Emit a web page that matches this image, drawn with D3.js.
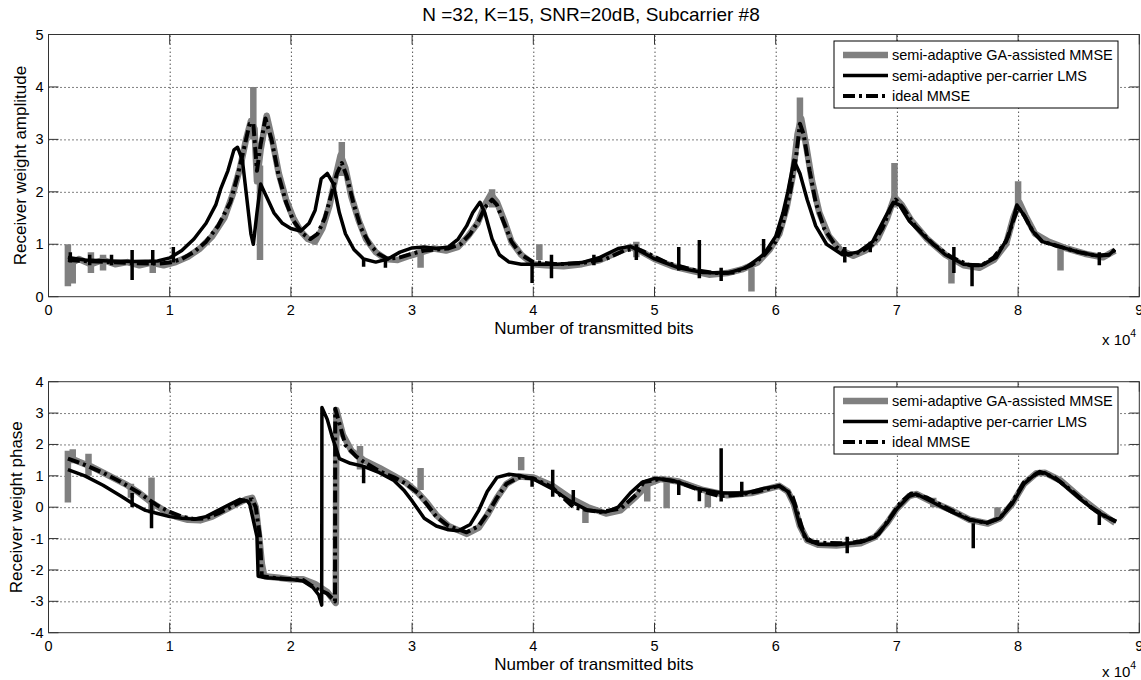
<!DOCTYPE html>
<html>
  <head>
    <meta charset="utf-8">
    <title></title>
  </head>
  <style>
    body{
      margin: 0;
      background-color: #fff;
      font-family: "Liberation Sans", Arial, Helvetica, sans-serif;
    }
    .grid line{
      stroke: #000;
      stroke-dasharray: 1,3;
      stroke-width: 1;
    }
    .tk line{ stroke: #333; }
    text{ fill: #000; }
  </style>
  <script src="https://d3js.org/d3.v7.min.js"></script>
  <body>
    <script>
    // x values are in units of 10^4 transmitted bits
    const xTicks = [0, 1, 2, 3, 4, 5, 6, 7, 8, 9]
    const ampTicks = [0, 1, 2, 3, 4, 5]
    const phaseTicks = [-4, -3, -2, -1, 0, 1, 2, 3, 4]
    const seriesNames = ["semi-adaptive GA-assisted MMSE", "semi-adaptive per-carrier LMS", "ideal MMSE"]

    // amplitude
    const ampGA = [[0.16,0.6],[0.25,0.72],[0.35,0.62],[0.45,0.7],[0.55,0.62],[0.65,0.66],[0.75,0.6],[0.85,0.65],[0.95,0.6],[1.05,0.66],[1.15,0.76],[1.25,0.92],[1.35,1.15],[1.45,1.5],[1.52,1.95],[1.58,2.45],[1.63,3.0],[1.67,3.35],[1.7,3.2],[1.72,2.2],[1.75,2.8],[1.8,3.45],[1.85,2.95],[1.9,2.35],[1.96,1.85],[2.02,1.5],[2.08,1.25],[2.14,1.1],[2.2,1.05],[2.26,1.3],[2.32,1.75],[2.37,2.3],[2.41,2.7],[2.45,2.45],[2.5,1.9],[2.56,1.45],[2.62,1.1],[2.7,0.85],[2.78,0.72],[2.88,0.7],[2.98,0.78],[3.08,0.85],[3.18,0.92],[3.28,0.88],[3.38,0.95],[3.46,1.15],[3.54,1.4],[3.6,1.75],[3.65,1.95],[3.7,1.8],[3.76,1.45],[3.82,1.05],[3.9,0.8],[4.0,0.62],[4.1,0.6],[4.25,0.58],[4.4,0.62],[4.55,0.7],[4.7,0.85],[4.8,0.95],[4.9,0.85],[5.0,0.72],[5.15,0.58],[5.3,0.5],[5.45,0.42],[5.6,0.45],[5.72,0.52],[5.85,0.65],[5.95,0.9],[6.03,1.2],[6.09,1.7],[6.14,2.3],[6.18,3.1],[6.21,3.4],[6.25,2.9],[6.3,2.2],[6.36,1.6],[6.44,1.15],[6.54,0.88],[6.64,0.78],[6.74,0.88],[6.84,1.1],[6.92,1.5],[6.98,1.9],[7.04,1.75],[7.12,1.45],[7.25,1.1],[7.4,0.8],[7.55,0.6],[7.68,0.55],[7.8,0.7],[7.9,1.0],[7.96,1.5],[8.01,1.8],[8.06,1.55],[8.14,1.2],[8.25,1.05],[8.4,0.92],[8.55,0.82],[8.7,0.75],[8.8,0.88]]
    const ampLMS = [[0.16,0.75],[0.3,0.7],[0.5,0.68],[0.7,0.67],[0.9,0.68],[1.0,0.74],[1.1,0.88],[1.2,1.1],[1.3,1.4],[1.38,1.75],[1.42,2.05],[1.48,2.4],[1.53,2.8],[1.56,2.85],[1.6,2.6],[1.64,1.8],[1.67,1.2],[1.69,1.0],[1.72,1.6],[1.75,2.15],[1.8,1.9],[1.86,1.6],[1.93,1.4],[2.0,1.3],[2.08,1.25],[2.15,1.4],[2.2,1.65],[2.25,2.25],[2.3,2.35],[2.35,2.15],[2.4,1.6],[2.45,1.2],[2.52,0.9],[2.6,0.72],[2.7,0.66],[2.8,0.72],[2.9,0.85],[3.0,0.93],[3.1,0.95],[3.2,0.92],[3.3,0.95],[3.38,1.1],[3.45,1.35],[3.5,1.6],[3.56,1.8],[3.6,1.6],[3.66,1.1],[3.72,0.8],[3.8,0.66],[3.9,0.62],[4.2,0.62],[4.4,0.65],[4.55,0.75],[4.7,0.92],[4.8,0.96],[4.9,0.85],[5.0,0.72],[5.2,0.55],[5.4,0.46],[5.6,0.45],[5.75,0.55],[5.9,0.8],[6.0,1.15],[6.06,1.6],[6.1,2.0],[6.15,2.6],[6.2,2.35],[6.26,1.85],[6.33,1.35],[6.42,1.0],[6.55,0.8],[6.68,0.85],[6.8,1.05],[6.9,1.5],[6.97,1.8],[7.02,1.75],[7.1,1.45],[7.25,1.1],[7.4,0.8],[7.55,0.62],[7.7,0.6],[7.82,0.75],[7.92,1.15],[7.99,1.75],[8.05,1.55],[8.12,1.25],[8.2,1.05],[8.35,0.95],[8.5,0.85],[8.65,0.78],[8.75,0.8],[8.8,0.9]]
    const ampIdeal = [[0.16,0.70],[0.3,0.68],[0.5,0.66],[0.7,0.64],[0.9,0.63],[1.0,0.65],[1.1,0.72],[1.2,0.85],[1.3,1.05],[1.4,1.35],[1.5,1.8],[1.56,2.3],[1.62,2.9],[1.66,3.3],[1.69,3.3],[1.72,2.4],[1.75,2.9],[1.79,3.4],[1.84,3.0],[1.9,2.3],[1.96,1.8],[2.02,1.45],[2.1,1.2],[2.16,1.1],[2.22,1.2],[2.28,1.5],[2.34,2.0],[2.38,2.35],[2.42,2.55],[2.46,2.3],[2.52,1.75],[2.58,1.3],[2.65,1.0],[2.72,0.82],[2.8,0.72],[2.9,0.75],[3.0,0.82],[3.1,0.88],[3.2,0.9],[3.3,0.92],[3.4,1.0],[3.48,1.2],[3.55,1.45],[3.6,1.7],[3.66,1.85],[3.7,1.75],[3.76,1.4],[3.82,1.05],[3.9,0.8],[4.0,0.66],[4.2,0.62],[4.4,0.64],[4.6,0.72],[4.75,0.88],[4.85,0.92],[4.95,0.82],[5.1,0.65],[5.3,0.52],[5.5,0.45],[5.65,0.46],[5.8,0.6],[5.9,0.78],[6.0,1.05],[6.06,1.4],[6.12,2.0],[6.17,2.7],[6.2,3.3],[6.23,3.1],[6.28,2.4],[6.33,1.8],[6.4,1.3],[6.5,0.95],[6.6,0.8],[6.7,0.85],[6.8,1.0],[6.88,1.3],[6.95,1.7],[6.99,1.85],[7.05,1.7],[7.15,1.35],[7.3,1.0],[7.45,0.75],[7.6,0.6],[7.7,0.6],[7.8,0.75],[7.9,1.05],[7.96,1.45],[8.0,1.7],[8.05,1.55],[8.12,1.25],[8.2,1.05],[8.35,0.95],[8.5,0.85],[8.65,0.78],[8.75,0.8],[8.8,0.9]]
    // short excursions [x, from, to]
    const ampGASpikes = [[0.16,0.2,1.0],[0.2,0.25,0.7],[0.35,0.45,0.85],[0.45,0.5,0.8],[0.86,0.45,0.7],[1.69,3.0,4.0],[1.745,0.7,2.5],[2.42,2.3,2.95],[3.07,0.55,0.9],[3.66,1.7,2.05],[4.05,0.7,1.0],[4.85,0.75,1.05],[5.8,0.1,0.55],[6.2,3.0,3.8],[6.98,1.7,2.55],[7.45,0.25,0.7],[8.0,1.6,2.2],[8.35,0.5,0.95]]
    const ampLMSSpikes = [[0.18,0.65,0.85],[0.34,0.6,0.8],[0.52,0.6,0.8],[0.69,0.32,0.89],[0.86,0.6,0.89],[1.03,0.65,0.95],[2.6,0.57,0.73],[2.78,0.55,0.75],[3.99,0.26,0.7],[4.15,0.35,0.8],[4.5,0.6,0.8],[4.85,0.7,1.0],[5.2,0.5,0.95],[5.37,0.35,1.08],[5.55,0.3,0.55],[5.9,0.8,1.1],[6.57,0.65,0.95],[6.78,0.85,1.05],[7.47,0.45,0.95],[7.62,0.2,0.62],[8.67,0.6,0.85]]

    // phase
    const phGA = [[0.16,1.6],[0.25,1.45],[0.35,1.3],[0.45,1.1],[0.55,0.9],[0.65,0.7],[0.75,0.45],[0.85,0.15],[0.95,-0.1],[1.05,-0.3],[1.15,-0.4],[1.25,-0.42],[1.35,-0.3],[1.45,-0.1],[1.55,0.1],[1.63,0.25],[1.68,0.3],[1.71,0.0],[1.74,-1.0],[1.76,-1.8],[1.78,-2.2],[1.9,-2.25],[2.0,-2.3],[2.1,-2.3],[2.2,-2.45],[2.3,-2.7],[2.37,-3.05],[2.375,3.1],[2.43,2.3],[2.5,1.8],[2.6,1.5],[2.73,1.25],[2.85,1.0],[2.95,0.78],[3.05,0.45],[3.12,0.15],[3.2,-0.25],[3.3,-0.6],[3.45,-0.85],[3.55,-0.65],[3.62,-0.25],[3.7,0.3],[3.78,0.75],[3.88,0.98],[4.0,0.95],[4.15,0.7],[4.3,0.3],[4.45,0.0],[4.6,-0.2],[4.72,-0.1],[4.85,0.35],[4.95,0.75],[5.05,0.9],[5.2,0.82],[5.4,0.55],[5.6,0.38],[5.8,0.45],[5.95,0.6],[6.03,0.68],[6.1,0.5],[6.15,0.1],[6.2,-0.6],[6.26,-1.05],[6.35,-1.2],[6.5,-1.22],[6.7,-1.15],[6.82,-0.95],[6.92,-0.5],[7.0,-0.05],[7.1,0.35],[7.16,0.42],[7.3,0.15],[7.45,-0.1],[7.6,-0.4],[7.75,-0.52],[7.85,-0.35],[7.95,0.1],[8.05,0.75],[8.15,1.08],[8.22,1.1],[8.35,0.85],[8.5,0.35],[8.65,-0.1],[8.8,-0.5]]
    const phLMS = [[0.16,1.2],[0.3,1.0],[0.45,0.7],[0.6,0.35],[0.7,0.1],[0.8,-0.1],[0.9,-0.2],[1.0,-0.3],[1.1,-0.35],[1.2,-0.38],[1.3,-0.3],[1.4,-0.1],[1.5,0.1],[1.58,0.25],[1.64,0.2],[1.66,0.1],[1.72,-0.94],[1.73,-2.2],[1.8,-2.25],[2.0,-2.3],[2.1,-2.35],[2.18,-2.55],[2.23,-2.8],[2.254,-3.12],[2.256,3.18],[2.3,2.8],[2.34,2.25],[2.4,1.55],[2.49,1.4],[2.6,1.3],[2.73,1.1],[2.85,0.85],[2.93,0.55],[3.0,0.2],[3.1,-0.35],[3.2,-0.6],[3.3,-0.72],[3.38,-0.75],[3.48,-0.55],[3.55,-0.1],[3.62,0.5],[3.7,0.95],[3.8,1.05],[3.9,1.0],[4.0,0.9],[4.15,0.6],[4.3,0.2],[4.45,-0.1],[4.6,-0.15],[4.7,0.0],[4.8,0.45],[4.9,0.8],[5.0,0.92],[5.15,0.85],[5.35,0.6],[5.55,0.45],[5.75,0.45],[5.9,0.6],[6.03,0.68],[6.1,0.5],[6.15,0.1],[6.2,-0.6],[6.26,-1.05],[6.35,-1.18],[6.5,-1.2],[6.7,-1.12],[6.82,-0.95],[6.92,-0.5],[7.0,-0.05],[7.1,0.35],[7.16,0.42],[7.3,0.15],[7.45,-0.15],[7.6,-0.4],[7.75,-0.5],[7.85,-0.35],[7.95,0.1],[8.05,0.75],[8.15,1.08],[8.22,1.1],[8.35,0.8],[8.5,0.3],[8.65,-0.15],[8.8,-0.45]]
    const phIdeal = [[0.16,1.55],[0.3,1.35],[0.45,1.1],[0.6,0.8],[0.75,0.45],[0.9,0.05],[1.0,-0.15],[1.1,-0.3],[1.2,-0.38],[1.3,-0.35],[1.4,-0.2],[1.5,0.0],[1.6,0.2],[1.68,0.25],[1.71,0.0],[1.745,-0.94],[1.76,-2.2],[1.85,-2.25],[2.0,-2.3],[2.1,-2.32],[2.21,-2.6],[2.3,-2.75],[2.364,-3.0],[2.366,3.14],[2.45,1.98],[2.54,1.61],[2.6,1.45],[2.73,1.15],[2.85,0.95],[2.95,0.75],[3.05,0.45],[3.12,0.1],[3.2,-0.3],[3.3,-0.6],[3.45,-0.8],[3.55,-0.6],[3.64,-0.1],[3.7,0.3],[3.78,0.75],[3.88,0.95],[4.0,0.92],[4.15,0.65],[4.33,0.0],[4.45,-0.1],[4.55,-0.15],[4.72,-0.05],[4.85,0.4],[4.91,0.8],[5.05,0.9],[5.2,0.8],[5.4,0.5],[5.54,0.35],[5.7,0.4],[5.85,0.5],[5.95,0.6],[6.03,0.68],[6.1,0.5],[6.14,0.33],[6.24,-0.94],[6.3,-1.1],[6.42,-1.14],[6.6,-1.15],[6.75,-1.05],[6.85,-0.85],[6.95,-0.3],[7.03,0.15],[7.12,0.44],[7.25,0.3],[7.45,-0.1],[7.6,-0.4],[7.74,-0.5],[7.85,-0.35],[7.95,0.15],[8.05,0.8],[8.18,1.13],[8.3,0.95],[8.45,0.5],[8.6,0.0],[8.7,-0.25],[8.81,-0.46]]
    const phGASpikes = [[0.16,0.15,1.8],[0.2,1.4,1.85],[0.33,1.0,1.7],[0.68,0.3,0.75],[0.85,-0.2,0.95],[2.57,1.2,1.95],[3.07,0.55,1.25],[3.9,1.18,1.6],[4.43,-0.5,0.0],[4.94,0.18,0.87],[5.1,-0.03,0.8],[5.44,0.0,0.45],[7.3,0.0,0.3],[7.83,-0.45,0.0]]
    const phLMSSpikes = [[0.69,0.0,0.45],[0.85,-0.67,0.13],[2.6,0.76,1.29],[3.99,0.65,0.97],[4.16,0.33,1.19],[4.33,0.13,0.55],[5.2,0.39,0.81],[5.37,0.19,0.62],[5.55,0.18,1.88],[5.72,0.33,0.81],[6.59,-1.47,-0.94],[7.63,-1.31,-0.51],[8.67,-0.57,-0.14]]

    const xUnit = 1e4
    const W = 1141, H = 680
    const left = 48.5, right = 1139.3

    const svg = d3.select("body").append("svg")
                  .attr("width", W)
                  .attr("height", H)

    svg.append("text")
       .attr("x", 591).attr("y", 21)
       .attr("text-anchor", "middle")
       .attr("font-size", "19px")
       .text("N =32, K=15, SNR=20dB, Subcarrier #8")

    const xScale = d3.scaleLinear().domain([0, 9 * xUnit]).range([left, right])

    const styles = [
      {stroke: "#808080", width: 6.5, dash: null},
      {stroke: "#000", width: 3.5, dash: null},
      {stroke: "#000", width: 4, dash: "12,4,3,4"}
    ]

    function panel(top, bottom, domain, ticks, ylabel, ylabelX, expY, series, gaSpikes, lmsSpikes, legendY){
      const yScale = d3.scaleLinear().domain(domain).range([bottom, top])
      const g = svg.append("g")
      const pw = right - left, ph = bottom - top

      // grid
      g.append("g").attr("class", "grid")
       .attr("transform", "translate(0," + bottom + ")")
       .call(d3.axisBottom(xScale).tickValues(xTicks.slice(1, -1).map(d => d * xUnit)).tickSize(-ph).tickFormat(""))
       .call(a => a.select(".domain").remove())
      g.append("g").attr("class", "grid")
       .attr("transform", "translate(" + left + ",0)")
       .call(d3.axisLeft(yScale).tickValues(ticks.slice(1, -1)).tickSize(-pw).tickFormat(""))
       .call(a => a.select(".domain").remove())

      // inward ticks on all four sides
      const tk = g.append("g").attr("class", "tk")
      xTicks.forEach(function(t){
        const x = xScale(t * xUnit)
        tk.append("line").attr("x1", x).attr("x2", x).attr("y1", bottom).attr("y2", bottom - 10)
        tk.append("line").attr("x1", x).attr("x2", x).attr("y1", top).attr("y2", top + 10)
      })
      ticks.forEach(function(t){
        const y = yScale(t)
        tk.append("line").attr("x1", left).attr("x2", left + 10).attr("y1", y).attr("y2", y)
        tk.append("line").attr("x1", right).attr("x2", right - 10).attr("y1", y).attr("y2", y)
      })

      // tick labels
      g.selectAll(".xl").data(xTicks).enter().append("text")
       .attr("x", d => xScale(d * xUnit)).attr("y", bottom + 18)
       .attr("text-anchor", "middle").attr("font-size", "14.5px")
       .text(d => d)
      g.selectAll(".yl").data(ticks).enter().append("text")
       .attr("x", left - 5).attr("y", d => yScale(d) + 5)
       .attr("text-anchor", "end").attr("font-size", "14.5px")
       .text(d => d)

      g.append("text")
       .attr("x", (left + right) / 2).attr("y", bottom + 37)
       .attr("text-anchor", "middle").attr("font-size", "17px")
       .text("Number of transmitted bits")
      const ex = g.append("text").attr("x", 1102).attr("y", expY).attr("font-size", "15px")
      ex.append("tspan").text("x 10")
      ex.append("tspan").attr("dy", -8).attr("font-size", "10.5px").text("4")

      g.append("text")
       .attr("transform", "translate(" + ylabelX + "," + (top + bottom) / 2 + ") rotate(-90)")
       .attr("text-anchor", "middle").attr("font-size", "17px")
       .text(ylabel)

      const clip = "clip" + Math.round(top)
      svg.append("clipPath").attr("id", clip).append("rect")
         .attr("x", left).attr("y", top).attr("width", pw).attr("height", ph)
      const plot = g.append("g").attr("clip-path", "url(#" + clip + ")")

      const line = d3.line().x(d => xScale(d[0] * xUnit)).y(d => yScale(d[1]))

      function spikes(data, st){
        plot.selectAll(null).data(data).enter().append("line")
            .attr("x1", d => xScale(d[0] * xUnit)).attr("x2", d => xScale(d[0] * xUnit))
            .attr("y1", d => yScale(d[1])).attr("y2", d => yScale(d[2]))
            .attr("stroke", st.stroke).attr("stroke-width", st.width)
      }

      series.forEach(function(s, i){
        const st = styles[i]
        if (i == 1) spikes(gaSpikes, styles[0])
        plot.append("path").datum(s)
            .attr("d", line)
            .attr("fill", "none")
            .attr("stroke", st.stroke)
            .attr("stroke-width", st.width)
            .attr("stroke-linejoin", "round")
            .attr("stroke-dasharray", st.dash)
        if (i == 1) spikes(lmsSpikes, styles[1])
      })

      // axes box
      g.append("rect").attr("x", left).attr("y", top).attr("width", pw).attr("height", ph)
       .attr("fill", "none").attr("stroke", "#333").attr("stroke-width", 1)

      // legend
      const lg = g.append("g").attr("transform", "translate(834," + legendY + ")")
      lg.append("rect").attr("width", 284).attr("height", 67)
        .attr("fill", "#fff").attr("stroke", "#000").attr("stroke-width", 1)
      seriesNames.forEach(function(n, i){
        const y = 14 + i * 20.5
        lg.append("line").attr("x1", 9).attr("x2", 54).attr("y1", y).attr("y2", y)
          .attr("stroke", styles[i].stroke).attr("stroke-width", styles[i].width)
          .attr("stroke-dasharray", styles[i].dash)
        lg.append("text").attr("x", 58).attr("y", y + 5).attr("font-size", "14.5px").text(n)
      })
    }

    panel(34.5, 296.7, [0, 5], ampTicks, "Receiver weight amplitude", 26, 345,
          [ampGA, ampLMS, ampIdeal], ampGASpikes, ampLMSSpikes, 41)
    panel(381.7, 632.7, [-4, 4], phaseTicks, "Receiver weight phase", 22, 677,
          [phGA, phLMS, phIdeal], phGASpikes, phLMSSpikes, 387)
    </script>
  </body>
</html>
